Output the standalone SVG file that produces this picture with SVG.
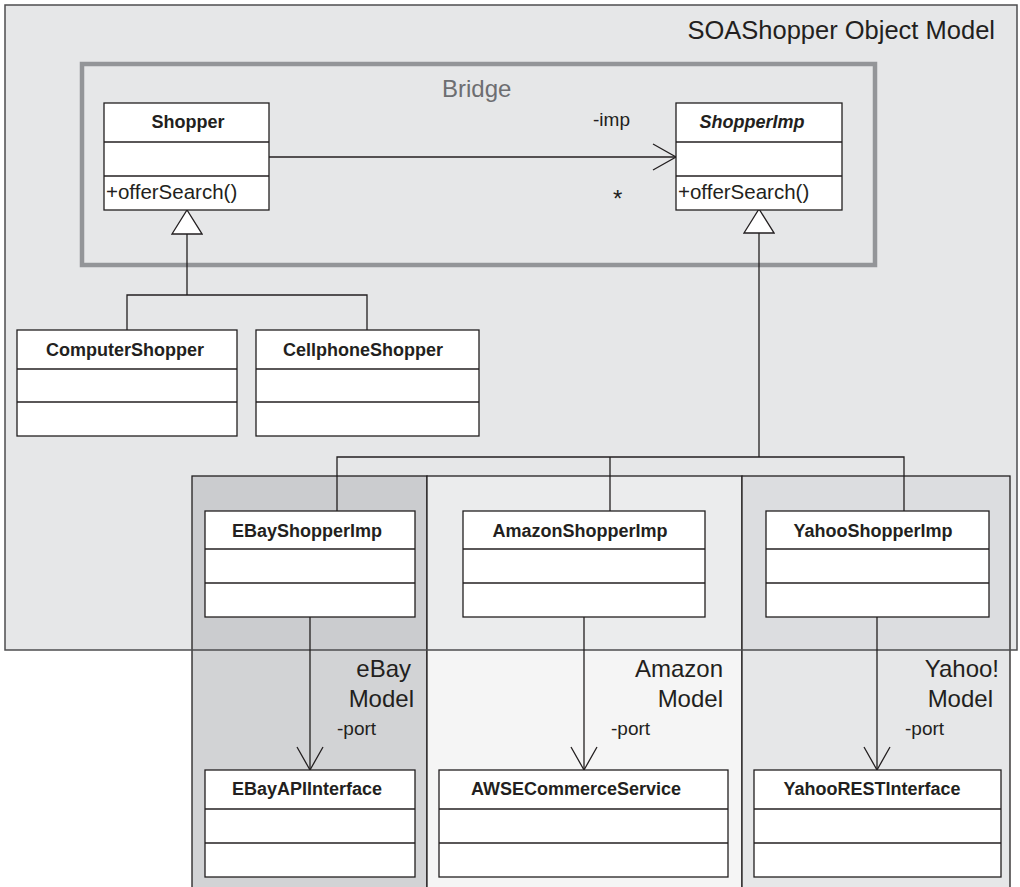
<svg xmlns="http://www.w3.org/2000/svg" width="1020" height="887" viewBox="0 0 1020 887">
  <style>
    .cls { fill: #ffffff; stroke: #231f20; stroke-width: 1.3; }
    .div { stroke: #231f20; stroke-width: 1.3; }
    .hdr { font-family: "Liberation Sans", Arial, sans-serif; font-size: 18px; font-weight: bold; fill: #231f20; text-anchor: middle; }
    .ital { font-style: italic; }
    .mth { font-family: "Liberation Sans", Arial, sans-serif; font-size: 20.5px; fill: #231f20; }
    .lbl { font-family: "Liberation Sans", Arial, sans-serif; font-size: 19px; fill: #231f20; }
    .pkg { font-family: "Liberation Sans", Arial, sans-serif; font-size: 24px; fill: #231f20; text-anchor: end; }
    .conn { fill: none; stroke: #231f20; stroke-width: 1.3; }
    .panel { stroke: #231f20; stroke-width: 1.3; }
  </style>
  <defs>
    <marker id="openArrow" markerUnits="userSpaceOnUse" viewBox="0 0 26 28" markerWidth="26" markerHeight="28" refX="24" refY="14" orient="auto">
      <path d="M1,1 L24,14 L1,27" fill="none" stroke="#231f20" stroke-width="1.3"/>
    </marker>
    <marker id="genTri" markerUnits="userSpaceOnUse" viewBox="0 0 26 32" markerWidth="26" markerHeight="32" refX="25" refY="16" orient="auto">
      <path d="M1,1 L25,16 L1,31 Z" fill="#ffffff" stroke="#231f20" stroke-width="1.3"/>
    </marker>
  </defs>

  <rect width="1020" height="887" fill="#ffffff"/>

  <!-- Outer package background -->
  <g id="soashopper-model">
    <rect x="5" y="5" width="1012" height="645" fill="#e6e7e8"/>
  </g>

  <!-- Vendor panels -->
  <g id="ebay-model">
    <rect x="192" y="476" width="235" height="174" fill="#cbcccf"/>
    <rect x="192" y="650" width="235" height="240" fill="#d2d3d5"/>
    <rect x="192" y="476" width="235" height="420" fill="none" class="panel"/>
    <text class="pkg"><tspan x="411" y="677">eBay</tspan><tspan x="414" y="707">Model</tspan></text>
  </g>
  <g id="amazon-model">
    <rect x="427" y="476" width="315" height="174" fill="#ebeced"/>
    <rect x="427" y="650" width="315" height="240" fill="#f5f5f5"/>
    <rect x="427" y="476" width="315" height="420" fill="none" class="panel"/>
    <text class="pkg"><tspan x="723" y="677">Amazon</tspan><tspan x="723" y="707">Model</tspan></text>
  </g>
  <g id="yahoo-model">
    <rect x="742" y="476" width="268" height="174" fill="#dcdde0"/>
    <rect x="742" y="650" width="268" height="240" fill="#e6e7e8"/>
    <rect x="742" y="476" width="268" height="420" fill="none" class="panel"/>
    <text class="pkg"><tspan x="999" y="677">Yahoo!</tspan><tspan x="993" y="707">Model</tspan></text>
  </g>

  <!-- Outer package border and title -->
  <g id="soashopper-border">
    <rect x="5" y="5" width="1012" height="645" fill="none" stroke="#4d4d4f" stroke-width="1.5"/>
    <text x="995" y="39" class="pkg" style="font-size:25.5px">SOAShopper Object Model</text>
  </g>

  <!-- Bridge package -->
  <g id="bridge">
    <rect x="82" y="64" width="793" height="201" fill="none" stroke="#939598" stroke-width="4.5"/>
    <text x="442" y="97" font-family="Liberation Sans, Arial, sans-serif" font-size="24" fill="#6d6e71">Bridge</text>
  </g>

  <!-- Connectors -->
  <g id="connectors">
    <!-- association Shopper -> ShopperImp -->
    <line x1="269" y1="157" x2="676" y2="157" class="conn" marker-end="url(#openArrow)"/>
    <text x="593" y="126" class="lbl">-imp</text>
    <text x="613" y="207" class="lbl" style="font-size:24px">*</text>
    <!-- generalization to Shopper -->
    <polyline points="127,330 127,295 367,295 367,330" class="conn"/>
    <line x1="187" y1="295" x2="187" y2="210" class="conn" marker-end="url(#genTri)"/>
    <!-- generalization to ShopperImp -->
    <polyline points="337,511 337,457 904,457 904,511" class="conn"/>
    <line x1="610" y1="457" x2="610" y2="511" class="conn"/>
    <line x1="759" y1="457" x2="759" y2="209" class="conn" marker-end="url(#genTri)"/>
    <!-- ports -->
    <line x1="310" y1="617" x2="310" y2="770" class="conn" marker-end="url(#openArrow)"/>
    <text x="337" y="735" class="lbl">-port</text>
    <line x1="584" y1="617" x2="584" y2="770" class="conn" marker-end="url(#openArrow)"/>
    <text x="611" y="735" class="lbl">-port</text>
    <line x1="877" y1="617" x2="877" y2="770" class="conn" marker-end="url(#openArrow)"/>
    <text x="905" y="735" class="lbl">-port</text>
  </g>

  <!-- Classes -->
  <g id="shopper">
    <rect x="104" y="103" width="165" height="107" class="cls"/>
    <line x1="104" y1="142" x2="269" y2="142" class="div"/>
    <line x1="104" y1="176" x2="269" y2="176" class="div"/>
    <text x="188" y="128" class="hdr">Shopper</text>
    <text x="106" y="199" class="mth">+offerSearch()</text>
  </g>
  <g id="shopperimp">
    <rect x="676" y="103" width="166" height="107" class="cls"/>
    <line x1="676" y1="142" x2="842" y2="142" class="div"/>
    <line x1="676" y1="176" x2="842" y2="176" class="div"/>
    <text x="752" y="128" class="hdr ital">ShopperImp</text>
    <text x="678" y="199" class="mth">+offerSearch()</text>
  </g>
  <g id="computershopper">
    <rect x="17" y="330" width="220" height="106" class="cls"/>
    <line x1="17" y1="369" x2="237" y2="369" class="div"/>
    <line x1="17" y1="402" x2="237" y2="402" class="div"/>
    <text x="125" y="356" class="hdr">ComputerShopper</text>
  </g>
  <g id="cellphoneshopper">
    <rect x="256" y="330" width="223" height="106" class="cls"/>
    <line x1="256" y1="369" x2="479" y2="369" class="div"/>
    <line x1="256" y1="402" x2="479" y2="402" class="div"/>
    <text x="363" y="356" class="hdr">CellphoneShopper</text>
  </g>
  <g id="ebayshopperimp">
    <rect x="205" y="511" width="210" height="106" class="cls"/>
    <line x1="205" y1="549" x2="415" y2="549" class="div"/>
    <line x1="205" y1="583" x2="415" y2="583" class="div"/>
    <text x="307" y="537" class="hdr">EBayShopperImp</text>
  </g>
  <g id="amazonshopperimp">
    <rect x="463" y="511" width="242" height="106" class="cls"/>
    <line x1="463" y1="549" x2="705" y2="549" class="div"/>
    <line x1="463" y1="583" x2="705" y2="583" class="div"/>
    <text x="580" y="537" class="hdr">AmazonShopperImp</text>
  </g>
  <g id="yahooshopperimp">
    <rect x="766" y="511" width="223" height="106" class="cls"/>
    <line x1="766" y1="549" x2="989" y2="549" class="div"/>
    <line x1="766" y1="583" x2="989" y2="583" class="div"/>
    <text x="873" y="537" class="hdr">YahooShopperImp</text>
  </g>
  <g id="ebayapiinterface">
    <rect x="205" y="770" width="210" height="107" class="cls"/>
    <line x1="205" y1="809" x2="415" y2="809" class="div"/>
    <line x1="205" y1="843" x2="415" y2="843" class="div"/>
    <text x="307" y="795" class="hdr">EBayAPIInterface</text>
  </g>
  <g id="awsecommerceservice">
    <rect x="439" y="770" width="289" height="107" class="cls"/>
    <line x1="439" y1="809" x2="728" y2="809" class="div"/>
    <line x1="439" y1="843" x2="728" y2="843" class="div"/>
    <text x="576" y="795" class="hdr">AWSECommerceService</text>
  </g>
  <g id="yahoorestinterface">
    <rect x="754" y="770" width="247" height="107" class="cls"/>
    <line x1="754" y1="809" x2="1001" y2="809" class="div"/>
    <line x1="754" y1="843" x2="1001" y2="843" class="div"/>
    <text x="872" y="795" class="hdr">YahooRESTInterface</text>
  </g>
</svg>
